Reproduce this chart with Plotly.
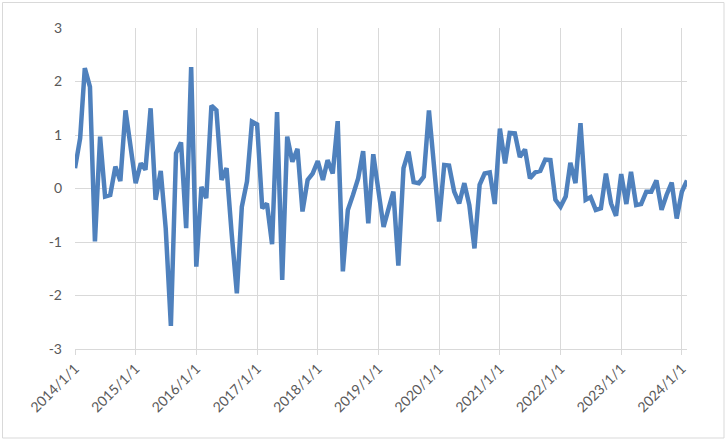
import plotly.graph_objects as go
import pandas as pd

values = [
    0.38, 0.94, 2.25, 1.90, -0.99, 0.97, -0.15, -0.12, 0.41, 0.14, 1.46, 0.78,
    0.10, 0.47, 0.35, 1.50, -0.21, 0.33, -0.75, -2.57, 0.66, 0.86, -0.74, 2.27,
    -1.46, 0.03, -0.18, 1.55, 1.46, 0.16, 0.38, -0.85, -1.96, -0.34, 0.13, 1.25,
    1.20, -0.37, -0.28, -1.04, 1.43, -1.71, 0.97, 0.50, 0.74, -0.43, 0.16, 0.28,
    0.51, 0.16, 0.53, 0.28, 1.26, -1.55, -0.40, -0.12, 0.19, 0.70, -0.65, 0.64,
    -0.05, -0.72, -0.40, -0.06, -1.44, 0.38, 0.69, 0.12, 0.10, 0.22, 1.46, 0.40,
    -0.62, 0.44, 0.43, -0.06, -0.28, 0.10, -0.31, -1.12, 0.07, 0.28, 0.30, -0.29,
    1.12, 0.47, 1.04, 1.03, 0.59, 0.73, 0.19, 0.30, 0.33, 0.54, 0.53, -0.21,
    -0.34, -0.15, 0.48, 0.10, 1.22, -0.21, -0.16, -0.40, -0.37, 0.28, -0.28, -0.51,
    0.27, -0.29, 0.31, -0.31, -0.29, -0.06, -0.06, 0.15, -0.40, -0.12, 0.11, -0.56,
    -0.06, 0.15,
]
dates = pd.date_range("2014-01-01", periods=len(values), freq="MS")
tick_dates = pd.date_range("2014-01-01", "2024-01-01", freq="YS")
tick_labels = [f"{d.year}/1/1" for d in tick_dates]
y_ticks = [-3, -2, -1, 0, 1, 2, 3]

fig = go.Figure()
fig.add_trace(go.Scatter(
    x=dates, y=values, mode="lines",
    line=dict(color="#4F81BD", width=4.5),
    hoverinfo="skip",
))

W, H = 727, 441
ml, mr, mt, mb = 75, 40, 28, 92
pw, ph = W - ml - mr, H - mt - mb

def px2paper(x, y):
    return (x - ml) / pw, (H - mb - y) / ph

x0, y0 = px2paper(2.5, 2.5)
x1, y1 = px2paper(724, 438)
fig.add_shape(type="rect", xref="paper", yref="paper", x0=x0, y0=y1, x1=x1, y1=y0,
              line=dict(color="#D9D9D9", width=1), fillcolor="rgba(0,0,0,0)", layer="below")

fig.update_layout(
    width=W, height=H,
    margin=dict(l=ml, r=mr, t=mt, b=mb),
    paper_bgcolor="white", plot_bgcolor="white",
    showlegend=False,
    font=dict(family="Lato, Liberation Sans, sans-serif", color="#595959", size=14),
    xaxis=dict(
        range=[dates[0], dates[-1]],
        tickvals=list(tick_dates), ticktext=tick_labels,
        tickangle=-45,
        showgrid=True, gridcolor="#D9D9D9", gridwidth=1,
        showline=True, linecolor="#D9D9D9", linewidth=1,
        ticks="outside", ticklen=5, tickcolor="#D9D9D9",
        tickfont=dict(size=14, color="#595959"),
        zeroline=False,
    ),
    yaxis=dict(
        range=[-3, 3], tickvals=y_ticks, ticktext=[str(v) for v in y_ticks],
        showgrid=True, gridcolor="#D9D9D9", gridwidth=1,
        zeroline=False, showline=False,
        ticks="", ticklabelstandoff=12,
        tickfont=dict(size=14, color="#595959"),
    ),
)

fig.write_html("out.html")
